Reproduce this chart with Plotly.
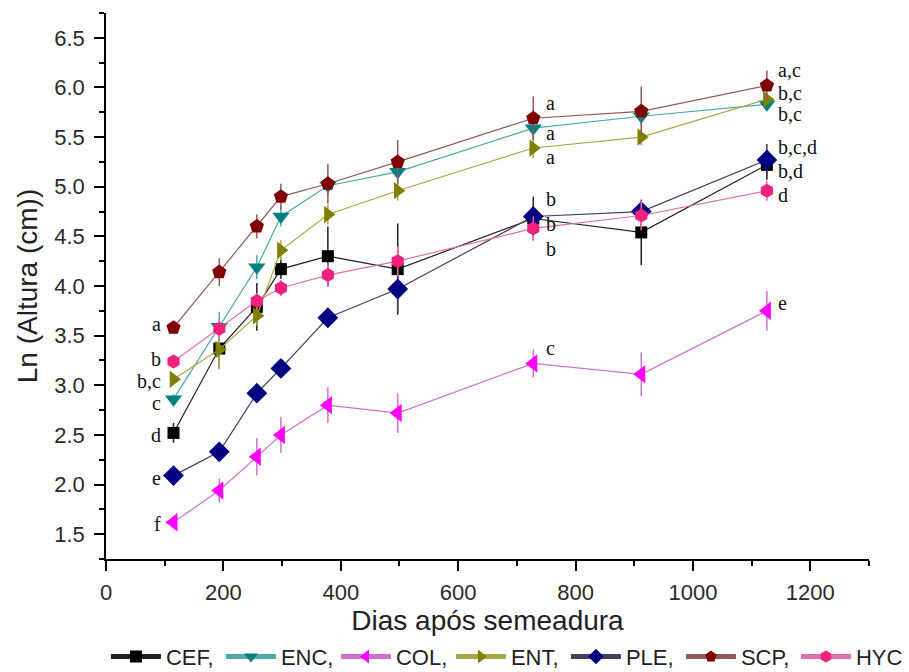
import plotly.graph_objects as go

# ---------------- data ----------------
days = [115, 193, 257, 298, 378, 497, 728, 912, 1126]

series_names = ["CEF", "ENC", "COL", "ENT", "PLE", "SCP", "HYC"]

CEF = [2.52, 3.37, 3.79, 4.17, 4.30, 4.17, 4.68, 4.54, 5.22]
ENC = [2.86, 3.59, 4.19, 4.70, 5.01, 5.15, 5.59, 5.71, 5.83]
COL = [1.62, 1.94, 2.28, 2.50, 2.80, 2.72, 3.22, 3.11, 3.75]
ENT = [3.06, 3.36, 3.70, 4.36, 4.72, 4.96, 5.39, 5.50, 5.88]
PLE = [2.09, 2.33, 2.92, 3.17, 3.68, 3.97, 4.70, 4.75, 5.27]
SCP = [3.58, 4.14, 4.60, 4.90, 5.03, 5.25, 5.69, 5.76, 6.02]
HYC = [3.24, 3.57, 3.85, 3.98, 4.11, 4.25, 4.58, 4.71, 4.96]

CEF_err = [0.10, 0.20, 0.24, 0.10, 0.30, 0.46, 0.22, 0.33, 0.15]
ENC_err = [0.05, 0.15, 0.12, 0.10, 0.10, 0.10, 0.12, 0.10, 0.05]
COL_err = [0.05, 0.12, 0.19, 0.18, 0.18, 0.20, 0.14, 0.22, 0.20]
ENT_err = [0.05, 0.20, 0.10, 0.10, 0.10, 0.10, 0.10, 0.08, 0.05]
PLE_err = [0.03, 0.05, 0.08, 0.08, 0.08, 0.24, 0.10, 0.10, 0.16]
SCP_err = [0.03, 0.14, 0.12, 0.13, 0.20, 0.22, 0.22, 0.25, 0.15]
HYC_err = [0.03, 0.10, 0.08, 0.08, 0.12, 0.15, 0.12, 0.15, 0.10]

legend_labels = ["CEF,", "ENC,", "COL,", "ENT,", "PLE,", "SCP,", "HYC"]

# significance letters (first, 728 d, last point)
letters_first = {"SCP": "a", "HYC": "b", "ENT": "b,c", "ENC": "c", "CEF": "d", "PLE": "e", "COL": "f"}
letters_mid = {"SCP": "a", "ENC": "a", "ENT": "a", "CEF": "b", "PLE": "b", "HYC": "b", "COL": "c"}
letters_last = {"SCP": "a,c", "ENT": "b,c", "ENC": "b,c", "PLE": "b,c,d", "CEF": "b,d", "HYC": "d", "COL": "e"}

x_title = "Dias após semeadura"
y_title = "Ln (Altura (cm))"

# ---------------- styles ----------------
values = {"CEF": CEF, "ENC": ENC, "COL": COL, "ENT": ENT, "PLE": PLE, "SCP": SCP, "HYC": HYC}
errors = {"CEF": CEF_err, "ENC": ENC_err, "COL": COL_err, "ENT": ENT_err,
          "PLE": PLE_err, "SCP": SCP_err, "HYC": HYC_err}
marker_color = {"CEF": "#000000", "ENC": "#008080", "COL": "#FF00FF", "ENT": "#808000",
                "PLE": "#000080", "SCP": "#800000", "HYC": "#F0207F"}
line_color = {"CEF": "#202020", "ENC": "#4FA8A8", "COL": "#D070D0", "ENT": "#A8A848",
              "PLE": "#404060", "SCP": "#905858", "HYC": "#E070A8"}
symbol = {"CEF": "square", "ENC": "triangle-down", "COL": "triangle-left", "ENT": "triangle-right",
          "PLE": "diamond", "SCP": "pentagon", "HYC": "hexagon"}
msize = {"CEF": 12, "ENC": 15, "COL": 16, "ENT": 15, "PLE": 16, "SCP": 15, "HYC": 14}

fig = go.Figure()
for name, lab in zip(series_names, legend_labels):
    fig.add_trace(go.Scatter(
        x=days, y=values[name], name=lab, mode="lines+markers",
        line=dict(color=line_color[name], width=1.2),
        marker=dict(symbol=symbol[name], size=msize[name], color=marker_color[name], line=dict(width=0)),
        error_y=dict(type="data", array=errors[name], visible=True, width=0,
                     thickness=1.5, color=line_color[name]),
    ))

# letter annotation offsets (px)
off_first = {"SCP": 4, "HYC": 2, "ENT": -2, "ENC": -4, "CEF": -2, "PLE": -2, "COL": -2}
off_mid = {"SCP": 15, "ENC": -5, "ENT": -9, "CEF": 19, "PLE": -7, "HYC": -21, "COL": 15}
off_last = {"SCP": 15, "ENT": 6, "ENC": -10, "PLE": 13, "CEF": -6, "HYC": -4, "COL": 8}

ann_font = dict(family="Liberation Serif", size=20, color="#111111")
annotations = []
for name in series_names:
    annotations.append(dict(x=days[0], y=values[name][0], text=letters_first[name], showarrow=False,
                            xanchor="right", yanchor="middle", xshift=-11, yshift=off_first[name], font=ann_font))
    annotations.append(dict(x=days[6], y=values[name][6], text=letters_mid[name], showarrow=False,
                            xanchor="left", yanchor="middle", xshift=11, yshift=off_mid[name], font=ann_font))
    annotations.append(dict(x=days[8], y=values[name][8], text=letters_last[name], showarrow=False,
                            xanchor="left", yanchor="middle", xshift=9, yshift=off_last[name], font=ann_font))

sans = "Liberation Sans, Arial"
axis_common = dict(showline=True, linecolor="black", linewidth=1.5, ticks="outside", ticklen=10,
                   tickwidth=1.5, tickcolor="black", showgrid=False, zeroline=False, mirror=False,
                   tickfont=dict(family=sans, size=22, color="#2a2a2a"),
                   minor=dict(ticks="outside", ticklen=5, tickwidth=1.5, tickcolor="black", showgrid=False))

fig.update_layout(
    width=909, height=672,
    margin=dict(l=106, r=40, t=13, b=113, autoexpand=False),
    plot_bgcolor="white", paper_bgcolor="white",
    xaxis=dict(range=[0, 1300], tickmode="linear", tick0=0, dtick=200, ticklabelstandoff=3,
               title=dict(text=x_title, font=dict(family=sans, size=28, color="#222222"), standoff=4),
               **axis_common),
    yaxis=dict(range=[1.25, 6.75], tickmode="linear", tick0=1.5, dtick=0.5, tickformat=".1f",
               ticklabelstandoff=5,
               title=dict(text=y_title, font=dict(family=sans, size=28, color="#222222"), standoff=8),
               **axis_common),
    legend=dict(orientation="h", x=-0.0001, xanchor="left", y=-0.179, yanchor="middle",
                font=dict(family=sans, size=22, color="#222222"),
                itemwidth=50, entrywidth=50, entrywidthmode="pixels", itemsizing="constant",
                bgcolor="rgba(0,0,0,0)"),
    annotations=annotations,
    showlegend=True,
)
fig.update_xaxes(minor=dict(dtick=100))
fig.update_yaxes(minor=dict(dtick=0.25))

fig.write_html("out.html")
